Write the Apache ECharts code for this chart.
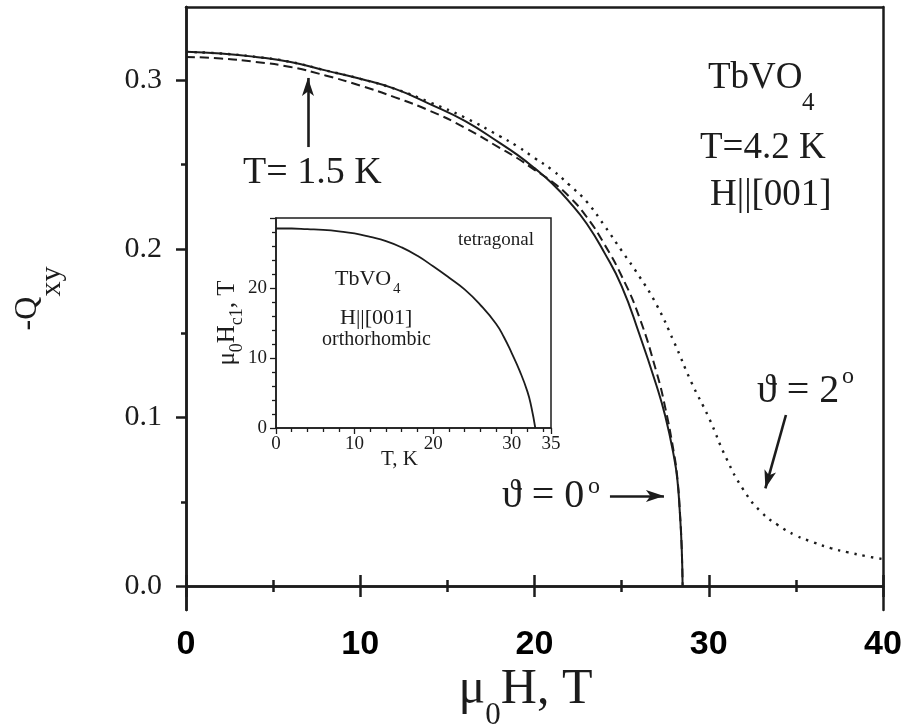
<!DOCTYPE html>
<html><head><meta charset="utf-8">
<script src="https://cdn.jsdelivr.net/npm/echarts@6/dist/echarts.min.js"></script>
<style>html,body{margin:0;padding:0;background:#fff}#c{width:906px;height:724px}</style>
</head><body><div id="c"></div>
<script>
// ---- main panel: -Q_xy versus mu0H (T) ----
const h_theta0 = [0,2,4,6,8,10,12,14,16,18,19,20,21,22,23,24,25,26,27,27.5,28,28.2,28.35,28.45,28.5];
const q_theta0 = [0.317,0.316,0.314,0.311,0.306,0.301,0.295,0.286,0.276,0.263,0.256,0.248,0.239,0.228,0.215,0.198,0.178,0.150,0.119,0.101,0.077,0.063,0.042,0.022,0];
const h_T15 = [0,2,4,6,8,10,12,14,16,18,19,20,21,22,23,24,25,26,27,27.5,28,28.2,28.35,28.45,28.5];
const q_T15 = [0.314,0.313,0.311,0.308,0.303,0.297,0.290,0.282,0.272,0.260,0.254,0.247,0.240,0.231,0.219,0.203,0.184,0.160,0.127,0.106,0.079,0.064,0.043,0.022,0];
const h_theta2 = [0,2,4,6,8,10,12,14,16,18,19,20,21,22,23,24,25,26,27,28,29,30,31,32,33,34,35,36,37,38,39,40];
const q_theta2 = [0.317,0.316,0.314,0.311,0.306,0.301,0.295,0.287,0.278,0.267,0.261,0.254,0.247,0.238,0.228,0.214,0.199,0.184,0.167,0.145,0.121,0.100,0.076,0.057,0.044,0.036,0.030,0.026,0.0225,0.020,0.0178,0.016];
const yMajorTicks = [0, 0.1, 0.2, 0.3];
const yMinorTicks = [0.05, 0.15, 0.25];
// ---- inset: mu0Hc1 versus T (K) ----
const inset_T = [0,2,4,6,8,10,12,14,16,18,20,22,24,26,28,29,30,31,32,32.5,33];
const inset_Hc1 = [28.5,28.5,28.4,28.3,28.1,27.8,27.3,26.7,25.8,24.6,23.1,21.5,19.8,17.6,14.9,13.0,10.7,8.2,5.2,3.0,0];

const serif = '"Liberation Serif","Times New Roman","DejaVu Serif",serif';
const sans = '"Liberation Sans",Arial,sans-serif';
const ink = '#1c1c1c';
const pairs = (xs, ys) => xs.map((x, i) => [x, ys[i]]);
const yMin = -0.0142, yMax = 0.3436;

const chart = echarts.init(document.getElementById('c'));
const lineOnly = {show: true, onZero: false, lineStyle: {color: ink, width: 2.5}};

const option = {
  animation: false,
  backgroundColor: '#fff',
  grid: [
    {left: 186, right: 23, top: 7, bottom: 114, containLabel: false, outerBoundsMode: 'none'},
    {left: 276, right: 355, top: 218, bottom: 296, containLabel: false, outerBoundsMode: 'none',
     show: true, backgroundColor: '#fff', borderColor: ink, borderWidth: 1.5}
  ],
  xAxis: [
    {type: 'value', gridIndex: 0, position: 'bottom', min: 0, max: 40, interval: 10,
     axisLine: {show: true, onZero: true, lineStyle: {color: ink, width: 2.5}},
     axisTick: {show: true, inside: false, length: 11, lineStyle: {color: ink, width: 2.5}},
     minorTick: {show: true, splitNumber: 2, length: 6, lineStyle: {color: ink, width: 2.5}},
     axisLabel: {show: true, margin: 18, fontFamily: sans, fontWeight: 'bold', fontSize: 34, color: '#000'},
     splitLine: {show: false}, minorSplitLine: {show: false},
     name: '{m|μ}{s|0}{m|H, T}', nameLocation: 'middle', nameGap: 55, nameMoveOverlap: false,
     nameTextStyle: {color: ink, padding: [0, 18, 0, 0], rich: {
       m: {fontFamily: serif, fontSize: 50, color: ink, verticalAlign: 'top'},
       s: {fontFamily: serif, fontSize: 31, color: ink, verticalAlign: 'top', padding: [35, 0, 0, 0]}
     }}},
    {type: 'value', gridIndex: 0, position: 'bottom', min: 0, max: 40, interval: 10,
     axisLine: {show: true, onZero: true, lineStyle: {color: ink, width: 2.5}},
     axisTick: {show: true, inside: true, length: 11, lineStyle: {color: ink, width: 2.5}},
     minorTick: {show: true, splitNumber: 2, length: 6, lineStyle: {color: ink, width: 2.5}},
     axisLabel: {show: false}, splitLine: {show: false}, minorSplitLine: {show: false}},
    {type: 'value', gridIndex: 0, position: 'top', min: 0, max: 40,
     axisLine: lineOnly, axisTick: {show: false}, axisLabel: {show: false}, splitLine: {show: false}},
    {type: 'value', gridIndex: 1, position: 'bottom', min: 0, max: 35, interval: 10,
     axisLine: {show: true, onZero: false, lineStyle: {color: ink, width: 1.5}},
     axisTick: {show: true, inside: false, length: 6, lineStyle: {color: ink, width: 1.3}},
     minorTick: {show: true, splitNumber: 5, length: 4, lineStyle: {color: ink, width: 1.3}},
     axisLabel: {margin: 7, fontFamily: serif, fontSize: 19, color: ink},
     splitLine: {show: false}, minorSplitLine: {show: false},
     name: 'T, K', nameLocation: 'middle', nameGap: 21, nameMoveOverlap: false,
     nameTextStyle: {fontFamily: serif, fontSize: 21, color: ink, padding: [0, 28, 0, 0]}}
  ],
  yAxis: [
    {type: 'value', gridIndex: 0, position: 'left', min: yMin, max: yMax,
     axisLine: {show: true, onZero: false, lineStyle: {color: ink, width: 2.5}},
     axisTick: {show: true, inside: false, length: 10, customValues: yMajorTicks, lineStyle: {color: ink, width: 2.5}},
     axisLabel: {show: true, customValues: yMajorTicks, formatter: v => v.toFixed(1), margin: 24,
                 fontFamily: serif, fontSize: 30, color: ink},
     splitLine: {show: false},
     name: '{m|-Q}{s|xy}', nameLocation: 'middle', nameRotate: 90, nameGap: 119, nameMoveOverlap: false,
     nameTextStyle: {color: ink, padding: [0, 0, 0, 20], rich: {
       m: {fontFamily: serif, fontSize: 32, color: ink, verticalAlign: 'top'},
       s: {fontFamily: serif, fontSize: 30, color: ink, verticalAlign: 'top', padding: [25, 0, 0, 0]}
     }}},
    {type: 'value', gridIndex: 0, position: 'left', min: yMin, max: yMax,
     axisLine: {show: true, onZero: false, lineStyle: {color: ink, width: 2.5}},
     axisTick: {show: true, inside: false, length: 5, customValues: yMinorTicks, lineStyle: {color: ink, width: 2.5}},
     axisLabel: {show: false}, splitLine: {show: false}},
    {type: 'value', gridIndex: 0, position: 'right', min: yMin, max: yMax,
     axisLine: lineOnly, axisTick: {show: false}, axisLabel: {show: false}, splitLine: {show: false}},
    {type: 'value', gridIndex: 1, position: 'left', min: 0, max: 30, interval: 10,
     axisLine: {show: true, onZero: false, lineStyle: {color: ink, width: 1.5}},
     axisTick: {show: true, inside: false, length: 6, lineStyle: {color: ink, width: 1.3}},
     minorTick: {show: true, splitNumber: 5, length: 4, lineStyle: {color: ink, width: 1.3}},
     axisLabel: {margin: 9, fontFamily: serif, fontSize: 19, color: ink, formatter: v => (v >= 30 ? '' : String(v))},
     splitLine: {show: false}, minorSplitLine: {show: false},
     name: '{m|μ}{s|0}{m|H}{s|c1}{m|, T}', nameLocation: 'middle', nameRotate: 90, nameGap: 30, nameMoveOverlap: false,
     nameTextStyle: {color: ink, rich: {
       m: {fontFamily: serif, fontSize: 25, color: ink, verticalAlign: 'top'},
       s: {fontFamily: serif, fontSize: 18, color: ink, verticalAlign: 'top', padding: [13, 0, 0, 0]}
     }}}
  ],
  series: [
    {type: 'line', name: 'theta=0', xAxisIndex: 0, yAxisIndex: 0, data: pairs(h_theta0, q_theta0),
     showSymbol: false, smooth: 0.5, silent: true, z: 5,
     lineStyle: {color: ink, width: 2},
     markLine: {silent: true, symbol: ['none', 'arrow'],
       label: {show: false}, emphasis: {disabled: true},
       lineStyle: {color: ink, width: 2.6, type: 'solid'},
       data: [
         [{coord: [7.0, 0.2605], symbol: 'none'}, {coord: [7.0, 0.3015], symbol: 'arrow', symbolSize: [9, 18]}],
         [{coord: [24.33, 0.0534], symbol: 'none'}, {coord: [27.43, 0.0534], symbol: 'arrow', symbolSize: [9, 18]}],
         [{coord: [34.43, 0.1015], symbol: 'none'}, {coord: [33.25, 0.0580], symbol: 'arrow', symbolSize: [9, 18]}]
       ]}},
    {type: 'line', name: 'T=1.5K', xAxisIndex: 0, yAxisIndex: 0, data: pairs(h_T15, q_T15),
     showSymbol: false, smooth: 0.5, silent: true, z: 4,
     lineStyle: {color: ink, width: 2, type: [9, 5]}},
    {type: 'line', name: 'theta=2', xAxisIndex: 0, yAxisIndex: 0, data: pairs(h_theta2, q_theta2),
     showSymbol: false, smooth: 0.5, silent: true, z: 3,
     lineStyle: {color: ink, width: 2.4, type: [2.4, 6]}},
    {type: 'line', name: 'inset', xAxisIndex: 3, yAxisIndex: 3, data: pairs(inset_T, inset_Hc1),
     showSymbol: false, smooth: 0.5, silent: true, z: 6,
     lineStyle: {color: ink, width: 1.8}}
  ],
  graphic: [
    {type: 'text', z: 100, style: {text: 'T= 1.5 K', x: 243, y: 173, fontFamily: serif, fontSize: 38, fill: ink, align: 'left', verticalAlign: 'middle'}},
    {type: 'text', z: 100, style: {text: 'TbVO', x: 708, y: 78.5, fontFamily: serif, fontSize: 37, fill: ink, align: 'left', verticalAlign: 'middle'}},
    {type: 'text', z: 100, style: {text: '4', x: 802, y: 103.5, fontFamily: serif, fontSize: 25, fill: ink, align: 'left', verticalAlign: 'middle'}},
    {type: 'text', z: 100, style: {text: 'T=4.2 K', x: 700, y: 148.5, fontFamily: serif, fontSize: 37, fill: ink, align: 'left', verticalAlign: 'middle'}},
    {type: 'text', z: 100, style: {text: 'H||[001]', x: 710, y: 195, fontFamily: serif, fontSize: 37, fill: ink, align: 'left', verticalAlign: 'middle'}},
    {type: 'text', z: 100, style: {text: 'ϑ = 2', x: 757, y: 391, fontFamily: serif, fontSize: 40, fill: ink, align: 'left', verticalAlign: 'middle'}},
    {type: 'text', z: 100, style: {text: 'o', x: 848, y: 376.5, fontFamily: serif, fontSize: 24, fill: ink, align: 'center', verticalAlign: 'middle'}},
    {type: 'text', z: 100, style: {text: 'ϑ = 0', x: 502, y: 496, fontFamily: serif, fontSize: 40, fill: ink, align: 'left', verticalAlign: 'middle'}},
    {type: 'text', z: 100, style: {text: 'o', x: 594, y: 487, fontFamily: serif, fontSize: 24, fill: ink, align: 'center', verticalAlign: 'middle'}},
    {type: 'text', z: 100, style: {text: 'tetragonal', x: 496, y: 240.5, fontFamily: serif, fontSize: 19, fill: ink, align: 'center', verticalAlign: 'middle'}},
    {type: 'text', z: 100, style: {text: 'TbVO', x: 335, y: 279, fontFamily: serif, fontSize: 22, fill: ink, align: 'left', verticalAlign: 'middle'}},
    {type: 'text', z: 100, style: {text: '4', x: 393, y: 289, fontFamily: serif, fontSize: 15, fill: ink, align: 'left', verticalAlign: 'middle'}},
    {type: 'text', z: 100, style: {text: 'H||[001]', x: 340, y: 318.5, fontFamily: serif, fontSize: 22, fill: ink, align: 'left', verticalAlign: 'middle'}},
    {type: 'text', z: 100, style: {text: 'orthorhombic', x: 322, y: 340, fontFamily: serif, fontSize: 20, fill: ink, align: 'left', verticalAlign: 'middle'}}
  ]
};
chart.setOption(option);
</script>
</body></html>
